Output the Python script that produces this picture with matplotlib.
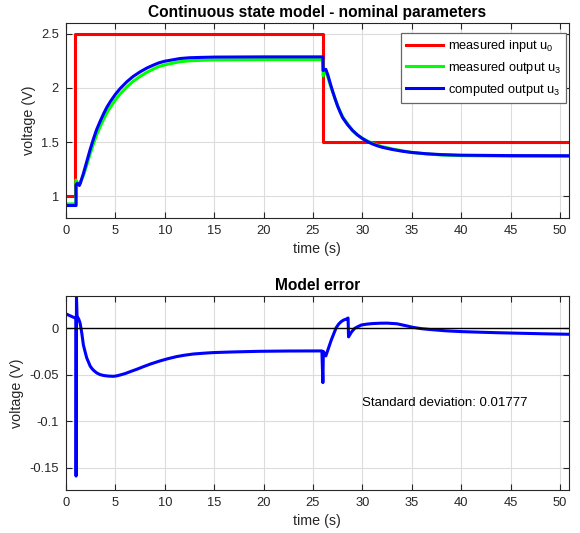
import matplotlib
matplotlib.use("Agg")
import matplotlib.pyplot as plt

plt.rcParams['font.family'] = ['Liberation Sans', 'DejaVu Sans']
plt.rcParams['mathtext.default'] = 'regular'

# ── data ────────────────────────────────────────────
t_in = [0, 0.95, 0.95, 26.0, 26.0, 51]
u_in = [1.0, 1.0, 2.5, 2.5, 1.5, 1.5]

t_meas = [0, 1.0, 1.0, 1.08, 1.2, 1.43, 1.76, 2.1, 2.44, 2.78, 3.1, 3.45, 3.8,
          4.13, 4.5, 5.0, 5.5, 6.15, 6.8, 7.5, 8.2, 8.86, 9.4, 10, 11.55, 12.5,
          13.6, 15, 20, 26.0, 26.03, 26.2, 26.35, 26.5, 26.75, 27.0, 27.25, 27.5,
          27.75, 28.0, 28.5, 29.0, 29.5, 30.0, 30.5, 31.0, 31.5, 32, 33, 34, 35,
          36.5, 38, 40, 45, 51]
u_meas = [0.93, 0.93, 1.15, 1.14, 1.11, 1.125, 1.192, 1.288, 1.39, 1.485, 1.567,
          1.64, 1.709, 1.769, 1.823, 1.889, 1.945, 2.007, 2.06, 2.105, 2.144,
          2.174, 2.196, 2.212, 2.241, 2.249, 2.253, 2.257, 2.26, 2.26, 2.11, 2.15,
          2.14, 2.10, 2.025, 1.96, 1.895, 1.833, 1.782, 1.733, 1.668, 1.607,
          1.566, 1.535, 1.51, 1.489, 1.472, 1.458, 1.437, 1.42, 1.404, 1.391,
          1.381, 1.375, 1.37, 1.3675]

t_comp = [0, 1.02, 1.02, 1.15, 1.35, 1.45, 1.76, 2.1, 2.44, 2.78, 3.1, 3.45, 3.8,
          4.13, 4.5, 5.0, 5.5, 6.15, 6.8, 7.5, 8.2, 8.86, 9.4, 10.0, 11.55, 12.5,
          13.6, 15, 20, 26.0, 26.02, 26.3, 26.5, 26.75, 27.0, 27.25, 27.5, 27.75,
          28.0, 28.5, 29.0, 29.5, 30.0, 30.5, 31.0, 31.5, 32, 33, 34, 35, 36.5,
          38, 40, 45, 51]
u_comp = [0.915, 0.915, 1.105, 1.12, 1.10, 1.12, 1.21, 1.32, 1.43, 1.53, 1.615,
          1.69, 1.76, 1.82, 1.875, 1.94, 1.995, 2.055, 2.105, 2.147, 2.183, 2.21,
          2.23, 2.245, 2.27, 2.277, 2.28, 2.283, 2.285, 2.285, 2.16, 2.17, 2.12,
          2.04, 1.965, 1.895, 1.83, 1.775, 1.725, 1.66, 1.607, 1.565, 1.532,
          1.505, 1.483, 1.466, 1.452, 1.432, 1.416, 1.404, 1.392, 1.384, 1.379,
          1.375, 1.374]

t_err = [0, 0.75, 1.0, 1.02, 1.06, 1.12, 1.3, 1.43, 1.6, 1.76, 1.95, 2.1, 2.3,
         2.44, 2.6, 2.78, 3.1, 3.45, 3.8, 4.13, 4.5, 4.8, 5.1, 5.48, 6.0, 6.5,
         7.2, 7.84, 8.6, 9.5, 10.3, 11.2, 12.0, 12.9, 14.0, 14.9, 16.9, 19.65,
         22.5, 25.9, 26.0, 26.05, 26.3, 26.55, 26.85, 27.1, 27.35, 27.6, 27.85,
         28.1, 28.4, 28.55, 28.6, 28.9, 29.2, 29.5, 29.9, 30.5, 31.0, 31.8, 32.5,
         33.5, 34.5, 35.1, 36, 37, 38.5, 40, 42, 44, 46, 48.5, 51]
err = [0.0154, 0.0118, 0.0107, -0.159, 0.0333, 0.013, 0.0095, 0.0053, -0.0054,
       -0.018, -0.026, -0.032, -0.037, -0.0406, -0.043, -0.0452, -0.048,
       -0.0499, -0.0508, -0.0513, -0.0516, -0.0517, -0.0513, -0.0503, -0.0487,
       -0.0467, -0.044, -0.0413, -0.0383, -0.0352, -0.0328, -0.0305, -0.029,
       -0.0277, -0.0268, -0.0262, -0.0255, -0.0248, -0.0245, -0.0244, -0.0585,
       -0.025, -0.0298, -0.022, -0.0127, -0.006, 0.0006, 0.0045, 0.0071, 0.0088,
       0.01, 0.011, -0.0093, -0.004, -0.0003, 0.0015, 0.0035, 0.0045, 0.005,
       0.0054, 0.0055, 0.0048, 0.0025, 0.001, -0.0005, -0.0015, -0.0028,
       -0.0036, -0.0043, -0.0049, -0.0054, -0.006, -0.0065]

std_text = "Standard deviation: 0.01777"

# ── figure ──────────────────────────────────────────
dark = '#262626'
fig = plt.figure(figsize=(5.8, 5.33), dpi=100)
ax1 = fig.add_axes([0.1138, 0.591, 0.867, 0.3664])
ax2 = fig.add_axes([0.1138, 0.0807, 0.867, 0.3645])


def style(ax):
    ax.grid(True, color='#dcdcdc', linewidth=0.8)
    ax.set_axisbelow(True)
    for s in ax.spines.values():
        s.set_color(dark)
        s.set_linewidth(0.8)
    ax.tick_params(direction='in', length=4, width=0.8, top=True, right=True,
                   colors=dark, labelsize=9.3, pad=5)
    ax.set_xlim(0, 50.9)
    ax.set_xticks(range(0, 51, 5))
    ax.set_xlabel('time (s)', fontsize=10.3, color=dark, labelpad=4)
    ax.set_ylabel('voltage (V)', fontsize=10.3, color=dark, labelpad=4)


ax1.plot(t_in, u_in, color='#ff0000', lw=2.2, label='measured input u$_0$')
ax1.plot(t_meas, u_meas, color='#00ff00', lw=2.2, label='measured output u$_3$')
ax1.plot(t_comp, u_comp, color='#0000ff', lw=2.2, label='computed output u$_3$')
style(ax1)
ax1.set_ylim(0.8, 2.6)
ax1.set_yticks([1, 1.5, 2, 2.5])
ax1.set_yticklabels(['1', '1.5', '2', '2.5'])
ax1.set_title('Continuous state model - nominal parameters', fontsize=11.2,
              fontweight='bold', pad=4)
leg = ax1.legend(loc='upper right', bbox_to_anchor=(0.994, 0.947),
                 borderaxespad=0, fontsize=9.2, fancybox=False, framealpha=1,
                 edgecolor='#666666', handlelength=2.9, handletextpad=0.35,
                 borderpad=0.4, labelspacing=0.45)
leg.get_frame().set_linewidth(0.9)

ax2.plot(t_err, err, color='#0000ff', lw=2.2)
ax2.axhline(0, color='black', lw=1.0)
style(ax2)
ax2.set_ylim(-0.174, 0.035)
ax2.set_yticks([-0.15, -0.1, -0.05, 0])
ax2.set_yticklabels(['-0.15', '-0.1', '-0.05', '0'])
ax2.set_title('Model error', fontsize=11.2, fontweight='bold', pad=4)
ax2.text(30, -0.08, std_text, fontsize=9.5, color='black', ha='left', va='center')

fig.savefig('out.png', dpi=100)
